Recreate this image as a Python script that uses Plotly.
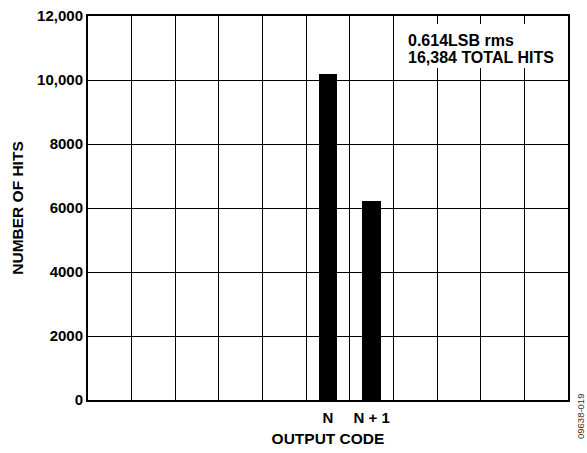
import plotly.graph_objects as go

# Data
code_offsets = [-5, -4, -3, -2, -1, 0, 1, 2, 3, 4, 5]
hits = [0, 0, 0, 0, 0, 10180, 6204, 0, 0, 0, 0]
x_tick_vals = [0, 1]
x_tick_text = ["N", "N + 1"]
y_tick_vals = [0, 2000, 4000, 6000, 8000, 10000, 12000]
y_tick_text = ["0", "2000", "4000", "6000", "8000", "10,000", "12,000"]
note_lines = ["0.614LSB rms", "16,384 TOTAL HITS"]

FONT = "Liberation Sans, Arial, Helvetica, sans-serif"
W, H = 587, 453
L, R, T, B = 88, 19, 16, 53
pw, ph = W - L - R, H - T - B

def px_x(x):
    return (x - L) / pw

def px_y(y):
    return (H - B - y) / ph

fig = go.Figure()
fig.add_trace(go.Bar(
    x=code_offsets, y=hits, width=0.42,
    marker=dict(color="black", line=dict(width=0)),
    hoverinfo="skip",
))

fig.update_layout(
    width=W, height=H,
    margin=dict(l=L, r=R, t=T, b=B, autoexpand=False),
    paper_bgcolor="white", plot_bgcolor="white",
    showlegend=False,
    font=dict(family=FONT, size=15, color="black", weight="bold"),
    bargap=0,
)

fig.update_xaxes(
    range=[-5.5, 5.5],
    tickmode="array", tickvals=x_tick_vals, ticktext=x_tick_text,
    ticks="", showgrid=False, zeroline=False,
    showline=True, linecolor="black", linewidth=2, mirror=True,
    minor=dict(tickmode="linear", tick0=-0.5, dtick=1, showgrid=True,
               gridcolor="black", gridwidth=1, ticks=""),
    tickfont=dict(family=FONT, size=15, color="black", weight="bold"),
    ticklabelstandoff=3,
    title=dict(text="OUTPUT CODE", standoff=8,
               font=dict(family=FONT, size=15.5, color="black", weight="bold")),
    automargin=False,
)
fig.update_yaxes(
    range=[0, 12000],
    tickmode="array", tickvals=y_tick_vals, ticktext=y_tick_text,
    ticks="", showgrid=True, gridcolor="black", gridwidth=1, zeroline=False,
    showline=True, linecolor="black", linewidth=2, mirror=True,
    tickfont=dict(family=FONT, size=15, color="black", weight="bold"),
    title=dict(text="NUMBER OF HITS", standoff=10,
               font=dict(family=FONT, size=15.5, color="black", weight="bold")),
    automargin=False,
)

# white box behind note
fig.add_shape(type="rect", xref="paper", yref="paper",
              x0=px_x(399), x1=px_x(566), y0=px_y(68), y1=px_y(24),
              fillcolor="white", line=dict(width=0), layer="above")
for i, line in enumerate(note_lines):
    fig.add_annotation(
        text=line, xref="paper", yref="paper",
        x=px_x(406), y=px_y(41 + 16.7 * i), xanchor="left", yanchor="middle",
        showarrow=False, align="left",
        font=dict(family=FONT, size=16, color="black", weight="bold"),
    )

fig.add_annotation(
    text="09638-019", xref="paper", yref="paper",
    x=px_x(580), y=px_y(417), xanchor="center", yanchor="middle",
    textangle=-90, showarrow=False,
    font=dict(family=FONT, size=9.5, color="#333333", weight="normal"),
)

fig.write_html("out.html")
